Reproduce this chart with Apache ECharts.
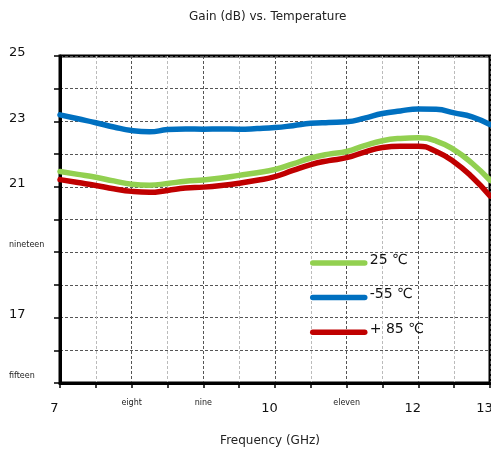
<!DOCTYPE html>
<html>
<head>
<meta charset="utf-8">
<script src="https://cdn.jsdelivr.net/npm/echarts@6/dist/echarts.min.js"></script>
<style>html,body{margin:0;padding:0;background:#fff}#c{width:491px;height:457px}</style>
</head>
<body>
<div id="c"></div>
<script>
const freq = [7,7.25,7.5,7.75,8,8.25,8.5,8.75,9,9.25,9.5,9.75,10,10.25,10.5,10.75,11,11.25,11.5,11.75,12,12.25,12.5,12.75,13];
const gain25 = [21.47,21.38,21.29,21.18,21.08,21.05,21.10,21.17,21.21,21.27,21.35,21.43,21.53,21.70,21.88,22.00,22.08,22.26,22.41,22.48,22.50,22.40,22.13,21.72,21.20];
const gainM55 = [23.20,23.08,22.96,22.83,22.72,22.68,22.75,22.77,22.76,22.77,22.76,22.78,22.81,22.87,22.94,22.97,22.99,23.10,23.24,23.32,23.38,23.37,23.26,23.14,22.90];
const gain85 = [21.22,21.13,21.04,20.94,20.86,20.83,20.89,20.96,20.99,21.04,21.11,21.20,21.31,21.50,21.68,21.80,21.89,22.06,22.20,22.24,22.24,22.08,21.76,21.30,20.72];
const seriesNames = ['25 ℃', '-55 ℃', '+ 85 ℃'];
const xTickLabels = {7:'7', 8:'eight', 9:'nine', 10:'10', 11:'eleven', 12:'12', 13:'13'};
const yTickLabels = {15:'fifteen', 17:'17', 19:'nineteen', 21:'21', 23:'23', 25:'25'};

const FONT = 'DejaVu Sans';
const pair = a => freq.map((f, i) => [f, a[i]]);
const isWord = s => /[a-z]/.test(s);

const chart = echarts.init(document.getElementById('c'), null, {renderer: 'canvas'});
chart.setOption({
  animation: false,
  backgroundColor: '#fff',
  title: {
    text: 'Gain (dB) vs. Temperature',
    left: 184, top: 6,
    textStyle: {fontFamily: FONT, fontSize: 12, fontWeight: 'normal', color: '#222'}
  },
  legend: {
    orient: 'vertical', left: 305, top: 248,
    itemWidth: 52, itemHeight: 14, itemGap: 19,
    data: seriesNames,
    itemStyle: {opacity: 0},
    lineStyle: {width: 5.5, cap: 'round'},
    formatter: n => '{a|' + n + '}',
    textStyle: {fontFamily: FONT, fontSize: 14, color: '#111',
      rich: {a: {fontFamily: FONT, fontSize: 14, color: '#111', padding: [0,0,6,0]}}}
  },
  grid: {left: 60, right: 1, top: 56, bottom: 74, show: true, borderColor: '#000', borderWidth: 3, containLabel: false, outerBoundsMode: 'none'},
  xAxis: {
    type: 'value', min: 7, max: 13, interval: 0.5,
    name: 'Frequency (GHz)', nameLocation: 'middle', nameGap: 52,
    nameTextStyle: {fontFamily: FONT, fontSize: 12, color: '#222', padding: [0,10,0,0]},
    axisLine: {show: true, lineStyle: {color: '#000', width: 3}},
    axisTick: {show: true, length: 5, lineStyle: {color: '#000', width: 1.5}},
    splitLine: {show: true, lineStyle: {type: [3,2], color: ['#555', '#bbb'], width: 1}},
    axisLabel: {
      margin: 14, fontFamily: FONT, color: '#111', hideOverlap: false,
      formatter: v => {
        const s = xTickLabels[v];
        if (s === undefined) return '';
        return isWord(s) ? '{s|' + s + '}' : '{b|' + s + '}';
      },
      rich: {
        b: {fontFamily: FONT, fontSize: 13, color: '#111', padding: [5,11,0,0]},
        s: {fontFamily: FONT, fontSize: 8, color: '#222', padding: [2,0,0,0]}
      }
    }
  },
  yAxis: {
    type: 'value', min: 15, max: 25, interval: 1,
    axisLine: {show: true, lineStyle: {color: '#000', width: 3}},
    axisTick: {show: true, length: 6, lineStyle: {color: '#000', width: 1.5}},
    splitLine: {show: true, lineStyle: {type: [3,2], color: '#555', width: 1}},
    axisLabel: {
      margin: 51, align: 'left', fontFamily: FONT, color: '#111',
      formatter: v => {
        const s = yTickLabels[v];
        if (s === undefined) return '';
        return isWord(s) ? '{s|' + s + '}' : '{b|' + s + '}';
      },
      rich: {
        b: {fontFamily: FONT, fontSize: 13, color: '#111', padding: [0,0,6,0]},
        s: {fontFamily: FONT, fontSize: 8, color: '#222', padding: [0,0,14,0]}
      }
    }
  },
  series: [
    {name: seriesNames[0], type: 'line', data: pair(gain25), smooth: true, symbol: 'none', color: '#92D050', lineStyle: {width: 5.5, color: '#92D050', cap: 'round'}},
    {name: seriesNames[1], type: 'line', data: pair(gainM55), smooth: true, symbol: 'none', color: '#0070C0', lineStyle: {width: 5.5, color: '#0070C0', cap: 'round'}},
    {name: seriesNames[2], type: 'line', data: pair(gain85), smooth: true, symbol: 'none', color: '#C00000', lineStyle: {width: 5.5, color: '#C00000', cap: 'round'}}
  ]
});
</script>
</body>
</html>
